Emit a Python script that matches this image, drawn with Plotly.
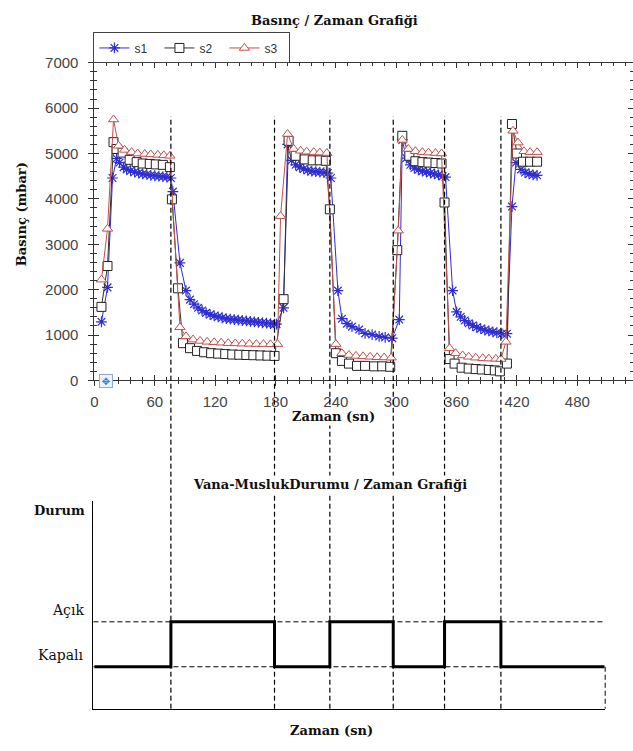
import plotly.graph_objects as go

W, H = 633, 751

# ---- pressure readings: time (s) / pressure (mbar) ----
t_s1 = [7, 13, 18, 22, 25, 29, 32, 36, 40, 44, 48, 52, 56, 60, 64, 68, 72, 76,
        78, 85, 91, 95, 99, 103, 107, 111, 115, 119, 123, 127, 131, 135, 139, 143, 147, 151,
        155, 159, 163, 167, 171, 175, 179,
        181, 188, 192, 196, 200, 204, 208, 212, 216, 220, 224, 228, 232, 235,
        242, 246, 251, 256, 263, 269, 276, 283, 289, 296,
        303, 306, 310, 314, 318, 322, 326, 330, 334, 338, 342, 346, 349,
        356, 360, 364, 368, 372, 376, 380, 384, 388, 392, 396, 400, 405,
        410, 415, 419, 424, 428, 432, 436, 440]
p_s1 = [1290, 2050, 4460, 4890, 4800, 4700, 4650, 4620, 4590, 4570, 4550, 4540, 4520, 4510, 4500, 4490, 4480, 4460,
        4160, 2590, 1980, 1780, 1680, 1600, 1540, 1490, 1450, 1420, 1400, 1380, 1360, 1350, 1340, 1330, 1320, 1310,
        1300, 1290, 1280, 1270, 1260, 1250, 1240,
        1240, 1600, 5200, 4850, 4750, 4700, 4660, 4630, 4610, 4600, 4590, 4580, 4570, 4460,
        1980, 1360, 1250, 1185, 1120, 1035, 1010, 970, 950, 930,
        1340, 5300, 4900, 4750, 4680, 4640, 4610, 4590, 4570, 4550, 4530, 4500, 4480,
        1980, 1510, 1400, 1320, 1260, 1210, 1170, 1140, 1110, 1090, 1070, 1050, 1030,
        1030, 3830, 4800, 4650, 4580, 4550, 4530, 4520]

t_s2 = [7, 13, 19, 22, 28, 35, 42, 48, 55, 61, 68, 75,
        77, 83, 88, 95, 102, 109, 116, 123, 130, 137, 144, 151, 158, 165, 172, 179,
        188, 193, 200, 209, 217, 224, 230, 234,
        240, 246, 253, 261, 269, 278, 286, 294,
        301, 306, 313, 319, 326, 332, 339, 345, 348,
        353, 358, 365, 372, 379, 385, 392, 398, 403,
        410, 415, 420, 426, 433, 440]
p_s2 = [1620, 2520, 5250, 5100, 5020, 4860, 4810, 4780, 4770, 4760, 4750, 4700,
        3990, 2030, 820, 710, 650, 620, 600, 590, 580, 570, 565, 560, 555, 550, 545, 540,
        1790, 5280, 4950, 4870, 4850, 4850, 4840, 3770,
        600, 430, 370, 320, 320, 310, 310, 300,
        2870, 5390, 4950, 4830, 4810, 4800, 4790, 4780, 3920,
        470, 370, 280, 260, 250, 240, 230, 220, 200,
        370, 5650, 5000, 4820, 4820, 4820]

t_s3 = [7, 13, 19, 24, 30, 37, 43, 50, 56, 63, 69, 75,
        85, 91, 98, 105, 112, 119, 126, 133, 140, 147, 154, 161, 168, 175,
        182, 185, 192, 198, 205, 211, 218, 224, 231,
        240, 246, 253, 260, 267, 274, 281, 288, 295,
        302, 306, 312, 319, 326, 332, 339, 345,
        353, 359, 366, 372, 379, 386, 392, 399, 404,
        409, 416, 421, 427, 433, 440]
p_s3 = [2220, 3340, 5750, 5170, 5080, 5030, 5000, 4990, 4980, 4970, 4960, 4950,
        1170, 970, 900, 870, 850, 840, 830, 820, 815, 810, 805, 800, 800, 795,
        800, 3620, 5430, 5100, 5060, 5040, 5030, 5020, 5010,
        800, 600, 560, 540, 530, 520, 510, 505, 500,
        3300, 5300, 5100, 5050, 5030, 5020, 5010, 5000,
        710, 600, 550, 520, 500, 490, 480, 475, 470,
        850, 5500, 5240, 5050, 5030, 5030]

# ---- valve / tap state over time (0 = Kapalı, 1 = Açık) ----
valve_switch_times = [76, 179, 234, 297, 348, 404]
valve_t = [0, 76, 179, 234, 297, 348, 404, 507]
valve_state = [0, 1, 0, 1, 0, 1, 0, 0]
state_labels = ["Kapalı", "Açık"]

x_ticks = [0, 60, 120, 180, 240, 300, 360, 420, 480]
y_ticks = [0, 1000, 2000, 3000, 4000, 5000, 6000, 7000]

SANS = "Liberation Sans"
SERIF = "DejaVu Serif"
INK = "#111111"


def px_x(p):
    return p / W


def px_y(p):
    return 1 - p / H


# pixel -> time scale shared by both panels
T_PER_PX = 1 / 1.0125
top_xrange = [0, (W - 91) * T_PER_PX]
bot_xrange = [(90 - 91) * T_PER_PX, (605 - 91) * T_PER_PX]
bot_yrange = [-(716 - 673) / 46, (673 - 503) / 46]

fig = go.Figure()

fig.add_trace(go.Scatter(
    x=t_s1, y=p_s1, name="s1", mode="lines+markers",
    line=dict(color="#2e2ed0", width=1),
    marker=dict(symbol="asterisk-open", size=9, line=dict(color="#2222cc", width=1.2)),
))
fig.add_trace(go.Scatter(
    x=t_s2, y=p_s2, name="s2", mode="lines+markers",
    line=dict(color="#333333", width=1),
    marker=dict(symbol="square", size=9, color="white", line=dict(color="#222222", width=1)),
))
fig.add_trace(go.Scatter(
    x=t_s3, y=p_s3, name="s3", mode="lines+markers",
    line=dict(color="#c0504d", width=1),
    marker=dict(symbol="triangle-up", size=9, color="white", line=dict(color="#c0504d", width=1)),
))
# companion axes that give the crossing tick marks
fig.add_trace(go.Scatter(x=[], y=[], xaxis="x3", yaxis="y3", showlegend=False, hoverinfo="skip"))

# valve state step line
fig.add_trace(go.Scatter(
    x=valve_t, y=valve_state, xaxis="x2", yaxis="y2", mode="lines",
    line=dict(color="black", width=3, shape="hv"), showlegend=False, hoverinfo="skip",
))

tickfont = dict(family=SANS, size=15, color="#444444")
top_dom_x = [px_x(91), 1.0]
top_dom_y = [px_y(380), px_y(55)]

fig.update_layout(
    width=W, height=H,
    margin=dict(l=0, r=0, t=0, b=0),
    paper_bgcolor="white", plot_bgcolor="white",
    showlegend=True,
    legend=dict(
        orientation="h", x=px_x(90), y=px_y(24), xanchor="left", yanchor="top",
        font=dict(family=SANS, size=12, color="#333333"),
        bordercolor="#444444", borderwidth=1, bgcolor="white",
        itemwidth=30, tracegroupgap=0, entrywidth=20, entrywidthmode="pixels",
    ),
    xaxis=dict(
        domain=top_dom_x, range=top_xrange, anchor="y",
        tickvals=x_ticks, ticks="outside", ticklen=5, tickwidth=1, tickcolor="#333333",
        minor=dict(dtick=12, tick0=0, ticks="outside", ticklen=3, tickcolor="#333333"),
        showline=True, linecolor="#333333", linewidth=1, mirror=True,
        showgrid=False, zeroline=False, tickfont=tickfont, ticklabelstandoff=3,
    ),
    yaxis=dict(
        domain=top_dom_y, range=[0, 7000], anchor="x",
        tickvals=y_ticks, ticks="outside", ticklen=5, tickwidth=1, tickcolor="#333333",
        minor=dict(dtick=200, tick0=0, ticks="outside", ticklen=3, tickcolor="#333333"),
        showline=True, linecolor="#333333", linewidth=1, mirror=False,
        showgrid=False, zeroline=False, tickfont=tickfont, ticklabelstandoff=7,
    ),
    xaxis3=dict(
        overlaying="x", anchor="y", range=top_xrange, domain=top_dom_x,
        tickvals=x_ticks, ticks="inside", ticklen=5, tickcolor="#333333",
        minor=dict(dtick=12, tick0=0, ticks="inside", ticklen=3, tickcolor="#333333"),
        mirror="allticks", showline=False, showgrid=False, zeroline=False, showticklabels=False,
    ),
    yaxis3=dict(
        overlaying="y", anchor="x", range=[0, 7000], domain=top_dom_y,
        tickvals=y_ticks, ticks="inside", ticklen=5, tickcolor="#333333",
        minor=dict(dtick=200, tick0=0, ticks="inside", ticklen=3, tickcolor="#333333"),
        mirror="allticks", showline=False, showgrid=False, zeroline=False, showticklabels=False,
    ),
    xaxis2=dict(
        domain=[px_x(90), px_x(605)], range=bot_xrange, anchor="y2",
        showline=True, linecolor="black", linewidth=1, ticks="", showticklabels=False,
        showgrid=False, zeroline=False,
    ),
    yaxis2=dict(
        domain=[px_y(716), px_y(503)], range=bot_yrange, anchor="x2",
        showline=True, linecolor="black", linewidth=1, ticks="", showticklabels=False,
        showgrid=False, zeroline=False,
    ),
)

DASH = "5px,3px"
shapes = []
# switching instants, running through both panels
for ts in valve_switch_times:
    shapes.append(dict(type="line", xref="x", yref="paper", x0=ts, x1=ts,
                       y0=px_y(716), y1=px_y(110),
                       line=dict(color="black", width=1.2, dash=DASH)))
# state reference levels
for lvl in (0, 1):
    shapes.append(dict(type="line", xref="x2 domain", yref="y2", x0=0, x1=1, y0=lvl, y1=lvl,
                       line=dict(color="black", width=1, dash=DASH), layer="below"))
shapes.append(dict(type="line", xref="x2 domain", yref="y2", x0=1, x1=1,
                   y0=0, y1=bot_yrange[0], line=dict(color="black", width=1, dash=DASH)))
fig.update_layout(shapes=shapes)


def label(text, x, y, size=13, **kw):
    d = dict(text=text, x=px_x(x), y=px_y(y), xref="paper", yref="paper",
             xanchor="center", yanchor="middle", showarrow=False,
             font=dict(family=SERIF, size=size, color=INK))
    d.update(kw)
    return d


ann = [
    label("<b>Basınç / Zaman Grafiği</b>", 333, 12),
    label("<b>Basınç (mbar)</b>", 17, 210, textangle=-90),
    label("<b>Zaman (sn)</b>", 332, 417, bgcolor="white"),
    label("<b>Vana-MuslukDurumu / Zaman Grafiği</b>", 328, 487, bgcolor="white"),
    label("<b>Durum</b>", 56, 513),
    label("<b>Zaman (sn)</b>", 330, 738),
]
for lvl, lab in enumerate(state_labels):
    ann.append(dict(text=lab, x=px_x(83), y=lvl, xref="paper", yref="y2",
                    xanchor="right", yanchor="bottom", yshift=2, showarrow=False,
                    font=dict(family=SERIF, size=14, color=INK)))
# small move handle next to the origin
ann.append(dict(text="✥", x=px_x(103), y=px_y(381), xref="paper", yref="paper",
                xanchor="center", yanchor="middle",
                showarrow=False, width=12, height=12, bgcolor="#eef3fb",
                bordercolor="#8fa8cc", borderwidth=1, borderpad=0,
                font=dict(family="DejaVu Sans", size=10, color="#3a6fc4")))
fig.update_layout(annotations=ann)

fig.write_html("out.html", config={"displayModeBar": False})
